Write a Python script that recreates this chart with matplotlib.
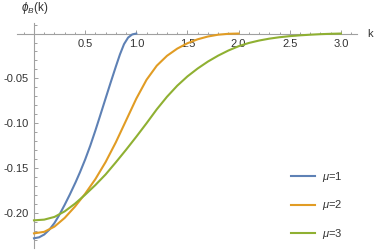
import numpy as np
import matplotlib
matplotlib.use('Agg')
import matplotlib.pyplot as plt
from matplotlib.ticker import MultipleLocator, FixedLocator, FixedFormatter

plt.rcParams['font.family'] = ['Liberation Sans', 'DejaVu Sans']
plt.rcParams['mathtext.fontset'] = 'custom'
plt.rcParams['mathtext.rm'] = 'Liberation Sans'
plt.rcParams['mathtext.it'] = 'Liberation Sans:italic'

# values
k_mu1 = [0, 0.05, 0.1, 0.15, 0.2, 0.244, 0.3, 0.35, 0.407, 0.45, 0.5, 0.55, 0.6,
         0.645, 0.7, 0.75, 0.8, 0.84, 0.88, 0.92, 0.96, 1.0]
phi_mu1 = [-0.228, -0.2269, -0.2238, -0.2184, -0.2110, -0.2027, -0.1907, -0.1793,
           -0.1655, -0.1543, -0.1403, -0.1249, -0.1080, -0.0920, -0.0722, -0.0543,
           -0.0368, -0.0233, -0.0118, -0.0045, -0.0010, 0]

k_mu2 = [0, 0.1, 0.2, 0.3, 0.4, 0.5, 0.6, 0.7, 0.8, 0.9, 1.0, 1.1, 1.2, 1.3, 1.4,
         1.5, 1.6, 1.7, 1.8, 1.9, 2.0]
phi_mu2 = [-0.2225, -0.2208, -0.2150, -0.2053, -0.1928, -0.1784, -0.1621, -0.1431,
           -0.1211, -0.0968, -0.0725, -0.0515, -0.0358, -0.0248, -0.0168, -0.0108,
           -0.0064, -0.0033, -0.0013, -0.0003, 0]

k_mu3 = [0, 0.1, 0.2, 0.3, 0.4, 0.5, 0.6, 0.7, 0.8, 0.9, 1.0, 1.1, 1.2, 1.3, 1.4,
         1.5, 1.6, 1.7, 1.8, 1.9, 2.0, 2.1, 2.2, 2.3, 2.4, 2.5, 2.6, 2.7, 2.8,
         2.9, 3.0]
phi_mu3 = [-0.2080, -0.2072, -0.2042, -0.1980, -0.1895, -0.1795, -0.1687, -0.1569,
           -0.1434, -0.1294, -0.1149, -0.0999, -0.0844, -0.0704, -0.0581, -0.0477,
           -0.0389, -0.0312, -0.0246, -0.0189, -0.0141, -0.0105, -0.0078, -0.0057,
           -0.0041, -0.0029, -0.0020, -0.0013, -0.0007, -0.0003, 0]

series = [(k_mu1, phi_mu1, r'$\mu$=1', '#5E81B5'),
          (k_mu2, phi_mu2, r'$\mu$=2', '#E19C24'),
          (k_mu3, phi_mu3, r'$\mu$=3', '#8FB032')]

xtick_vals = [0.5, 1.0, 1.5, 2.0, 2.5, 3.0]
ytick_vals = [-0.20, -0.15, -0.10, -0.05]

fig = plt.figure(figsize=(3.74, 2.5), dpi=100)
ax = fig.add_axes([17 / 374, 2 / 250, 340 / 374, 224.7 / 250])

for k, phi, lab, col in series:
    ax.plot(k, phi, color=col, lw=1.5, label=lab)

ax.set_xlim(-0.166, 3.157)
ax.set_ylim(-0.2388, 0.0114)

for s in ['top', 'right']:
    ax.spines[s].set_visible(False)
ax.spines['left'].set_position(('data', 0))
ax.spines['bottom'].set_position(('data', 0))
for s in ['left', 'bottom']:
    ax.spines[s].set_color('#a0a0a0')
    ax.spines[s].set_linewidth(0.8)
    ax.spines[s].set_zorder(0)

ax.xaxis.set_major_locator(FixedLocator(xtick_vals))
ax.xaxis.set_major_formatter(FixedFormatter(['%.1f' % v for v in xtick_vals]))
ax.xaxis.set_minor_locator(MultipleLocator(0.1))
ax.yaxis.set_major_locator(FixedLocator(ytick_vals))
ax.yaxis.set_major_formatter(FixedFormatter(['-%.2f' % abs(v) for v in ytick_vals]))
ax.yaxis.set_minor_locator(MultipleLocator(0.01))

ax.tick_params(which='both', direction='in', color='#a0a0a0', width=0.7,
               labelsize=8, labelcolor='#333333', pad=4)
ax.tick_params(which='major', length=3.2)
ax.tick_params(which='minor', length=1.8)

fig.text(34.5 / 374, 1 - 8 / 250, r'$\phi_B$(k)', ha='center', va='center',
         fontsize=8.5, color='#333333')
fig.text(367 / 374, 1 - 34 / 250, 'k', ha='left', va='center',
         fontsize=8, color='#333333')

ax.legend(loc='upper left', bbox_to_anchor=(291 / 374, 1 - 170 / 250),
          bbox_transform=fig.transFigure, frameon=False, fontsize=8,
          handlelength=2.2, handletextpad=0.6, labelspacing=1.3,
          borderpad=0, borderaxespad=0, labelcolor='#333333')

fig.savefig('out.png', dpi=100)
